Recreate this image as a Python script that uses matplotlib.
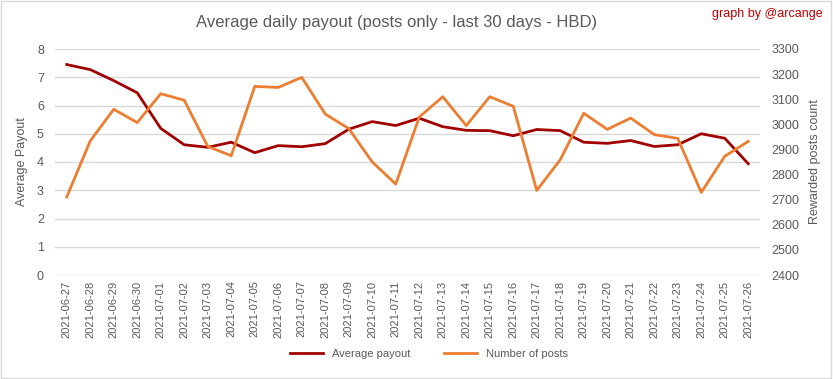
import matplotlib.pyplot as plt
import pandas as pd

dates = pd.date_range("2021-06-27", "2021-07-26").strftime("%Y-%m-%d").tolist()

avg_payout = [7.45, 7.27, 6.88, 6.45, 5.19, 4.61, 4.52, 4.70, 4.33, 4.58,
              4.54, 4.65, 5.16, 5.43, 5.29, 5.55, 5.25, 5.12, 5.11, 4.93,
              5.15, 5.11, 4.70, 4.66, 4.76, 4.55, 4.61, 5.00, 4.84, 3.94]

num_posts = [2711, 2934, 3060, 3007, 3122, 3096, 2912, 2875, 3151, 3147,
             3187, 3041, 2983, 2850, 2762, 3029, 3110, 2995, 3110, 3072,
             2737, 2859, 3044, 2980, 3025, 2959, 2944, 2729, 2873, 2932]

gray = "#595959"
red = "#A00000"
orange = "#ED7D31"

plt.rcParams["font.family"] = ["Liberation Sans", "DejaVu Sans"]

fig = plt.figure(figsize=(8.33, 3.79), dpi=100)
ax = fig.add_axes([55 / 833, 1 - 275 / 379, (760 - 55) / 833, (275 - 49) / 379])
ax2 = ax.twinx()

x = list(range(len(dates)))
l1, = ax.plot(x, avg_payout, color=red, lw=2, label="Average payout", zorder=3)
l2, = ax2.plot(x, num_posts, color=orange, lw=2, label="Number of posts", zorder=2)

ax.set_xlim(-0.5, len(dates) - 0.5)
ax.set_ylim(0, 8)
ax2.set_ylim(2400, 3300)
ax.set_yticks(range(0, 9))
ax2.set_yticks(range(2400, 3301, 100))
ax.set_xticks(x)
ax.set_xticklabels(dates, rotation=90, fontsize=8, color=gray)

ax.grid(axis="y", color="#D9D9D9", lw=1)
ax.set_axisbelow(True)
for a in (ax, ax2):
    for s in a.spines.values():
        s.set_visible(False)
    a.tick_params(length=0, colors=gray, labelsize=9)
ax.tick_params(axis="x", labelsize=8, pad=4)
ax.tick_params(axis="y", pad=8)
ax2.tick_params(axis="y", pad=8)

ax.set_ylabel("Average Payout", color=gray, fontsize=9)
ax.yaxis.set_label_coords(-0.038, 0.5)
ax2.set_ylabel("Rewarded posts count", color=gray, fontsize=9)
ax2.yaxis.set_label_coords(1.07, 0.5)

fig.text(0.476, 0.94, "Average daily payout (posts only - last 30 days - HBD)",
         ha="center", va="center", fontsize=12, color=gray)
fig.text(0.987, 0.963, "graph by @arcange", ha="right", va="center",
         fontsize=9, color="#C00000")

fig.legend(handles=[l1, l2], loc="center", bbox_to_anchor=(0.515, 0.065),
           ncol=2, frameon=False, fontsize=8, labelcolor=gray,
           handlelength=3, columnspacing=3)

border = plt.Rectangle((0.001, 0.002), 0.997, 0.995, transform=fig.transFigure,
                       fill=False, edgecolor="#D9D9D9", lw=1)
fig.patches.append(border)

fig.savefig("out.png", dpi=100)
